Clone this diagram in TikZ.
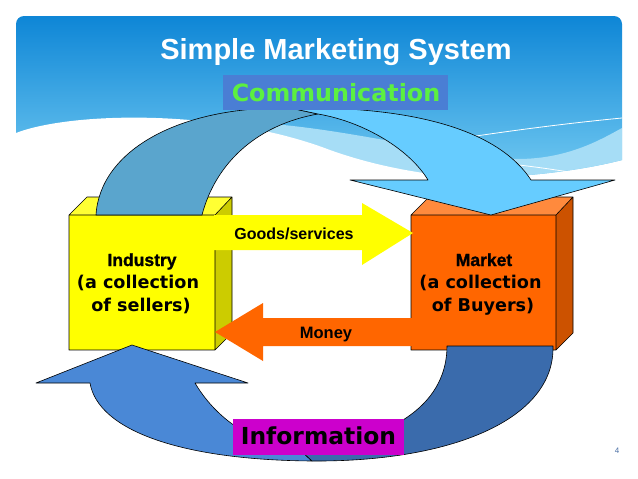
\documentclass[tikz,border=0pt]{standalone}
\usepackage{fontspec}
\setmainfont{Liberation Sans}
\newfontfamily\dvs{DejaVu Sans}
\newfontfamily\heavy[FakeBold=1.2]{Liberation Sans}
\definecolor{skytop}{HTML}{0E86D6}
\definecolor{skybot}{HTML}{74CBF2}
\definecolor{swoosh}{HTML}{A6DDF6}
\definecolor{commbox}{HTML}{4A7ED4}
\definecolor{commtxt}{HTML}{5CF040}
\definecolor{infobox}{HTML}{CC00CC}
\definecolor{topdark}{HTML}{5AA5CD}
\definecolor{toplight}{HTML}{66CCFF}
\definecolor{botlight}{HTML}{4A88D6}
\definecolor{botdark}{HTML}{3A6BAC}
\definecolor{ylwfront}{HTML}{FFFF00}
\definecolor{ylwtop}{HTML}{FFFF33}
\definecolor{ylwside}{HTML}{CCCC00}
\definecolor{orfront}{HTML}{FF6600}
\definecolor{ortop}{HTML}{FF8A3D}
\definecolor{orside}{HTML}{CC5200}
\definecolor{pagenum}{HTML}{4A6FA5}
\tikzset{
  edge/.style={draw=black, line width=0.6pt, line join=round},
  boxtxt/.style={anchor=base, inner sep=0pt, text=black},
  boxfont/.style={font=\dvs\bfseries\fontsize{17.6}{20}\selectfont},
}
\begin{document}
\begin{tikzpicture}[x=1pt,y=-1pt]
\useasboundingbox (0,0) rectangle (638,479);
\fill[white] (0,0) rectangle (638,479);
% sky header
\begin{scope}
\clip[rounded corners=8pt] (16,16) rectangle (622,300);
\shade[top color=skytop, bottom color=skybot]
  (16,180) -- (16,16) -- (622,16) -- (622,160)
  .. controls (560,176) and (470,182) .. (400,176) -- (16,180) -- cycle;
% light swoosh
\fill[swoosh] (240,122) .. controls (330,125) and (420,150) .. (500,158)
  .. controls (560,164) and (600,140) .. (622,128) -- (622,160)
  .. controls (560,176) and (470,182) .. (400,176) -- (330,160) -- cycle;
% white hill
\fill[white] (16,133) .. controls (70,112) and (220,108) .. (330,150)
  .. controls (380,168) and (450,182) .. (530,178) -- (530,200) -- (16,200) -- cycle;
\draw[white, line width=0.8pt] (430,143) .. controls (500,132) and (560,124) .. (622,118);
\draw[white, line width=0.8pt] (470,160) .. controls (515,164) and (545,168) .. (575,173);
\end{scope}
% Industry box
\fill[ylwtop] (69,215) -- (87,197) -- (232,197) -- (215,215) -- cycle;
\fill[ylwside] (215,215) -- (232,197) -- (232,333) -- (215,350) -- cycle;
\fill[ylwfront] (69,215) rectangle (215,350);
\draw[edge] (69,215) -- (87,197) -- (232,197) -- (215,215) -- cycle
  (232,197) -- (232,333) -- (215,350) (69,215) rectangle (215,350);
% Market box
\fill[ortop] (411,215) -- (429,197) -- (573,197) -- (556,215) -- cycle;
\fill[orside] (556,215) -- (573,197) -- (573,333) -- (556,350) -- cycle;
\fill[orfront] (411,215) rectangle (556,350);
\draw[edge] (411,215) -- (429,197) -- (573,197) -- (556,215) -- cycle
  (573,197) -- (573,333) -- (556,350) (411,215) rectangle (556,350);
% Goods/services arrow
\fill[ylwfront] (214,215) -- (362,215) -- (362,203) -- (413,233) -- (362,265)
  -- (362,250) -- (214,250) -- cycle;
% Money arrow
\fill[orfront] (412,318) -- (263,318) -- (263,303) -- (215,332) -- (263,361)
  -- (263,346) -- (412,346) -- cycle;
% Communication arrow (top)
\filldraw[fill=topdark, edge] (96,215) .. controls (100,150) and (180,106) .. (290,108)
  -- (318,114) .. controls (255,125) and (215,165) .. (202,215) -- cycle;
\filldraw[fill=toplight, edge] (290,108) .. controls (400,106) and (495,125) .. (531,180)
  -- (615,180) -- (491,215) -- (350,180) -- (428,180)
  .. controls (410,150) and (365,122) .. (318,114) -- cycle;
% Information arrow (bottom)
\filldraw[fill=botlight, edge] (132,345) -- (248,383) -- (195,383)
  .. controls (220,425) and (260,445) .. (300,450) -- (312,461)
  .. controls (180,460) and (98,430) .. (90,383) -- (36,383) -- cycle;
\filldraw[fill=botdark, edge] (553,346) .. controls (555,420) and (450,462) .. (312,461)
  -- (300,450) .. controls (400,440) and (447,400) .. (447,346) -- cycle;
% labels
\node[boxtxt, text=white, font=\bfseries\fontsize{29}{30}\selectfont] (title) at (336,59) {Simple Marketing System};
\fill[commbox] (223,75) rectangle (448,110);
\node[boxtxt, text=commtxt, font=\dvs\bfseries\fontsize{23.8}{25}\selectfont] (comm) at (336,101) {Communication};
\fill[infobox] (233,419) rectangle (404,455);
\node[boxtxt, font=\dvs\bfseries\fontsize{23.4}{25}\selectfont] (info) at (318.5,444) {Information};
\node[boxtxt, font=\bfseries\fontsize{16}{18}\selectfont] (goods) at (294,239) {Goods/services};
\node[boxtxt, font=\bfseries\fontsize{16.5}{18}\selectfont] (money) at (326,338) {Money};
\node[boxtxt, font=\heavy\bfseries\fontsize{17.5}{18}\selectfont] (ind) at (142,266) {Industry};
\node[boxtxt, boxfont] (ind2) at (138,288) {(a collection};
\node[boxtxt, boxfont] (ind3) at (141,311) {of sellers)};
\node[boxtxt, font=\heavy\bfseries\fontsize{17.5}{18}\selectfont] (mkt) at (484,266) {Market};
\node[boxtxt, boxfont] (mkt2) at (480.5,288) {(a collection};
\node[boxtxt, boxfont] (mkt3) at (483,311) {of Buyers)};
\node[boxtxt, text=pagenum, font=\fontsize{8}{9}\selectfont] (pg) at (617,453) {4};
\end{tikzpicture}
\end{document}
